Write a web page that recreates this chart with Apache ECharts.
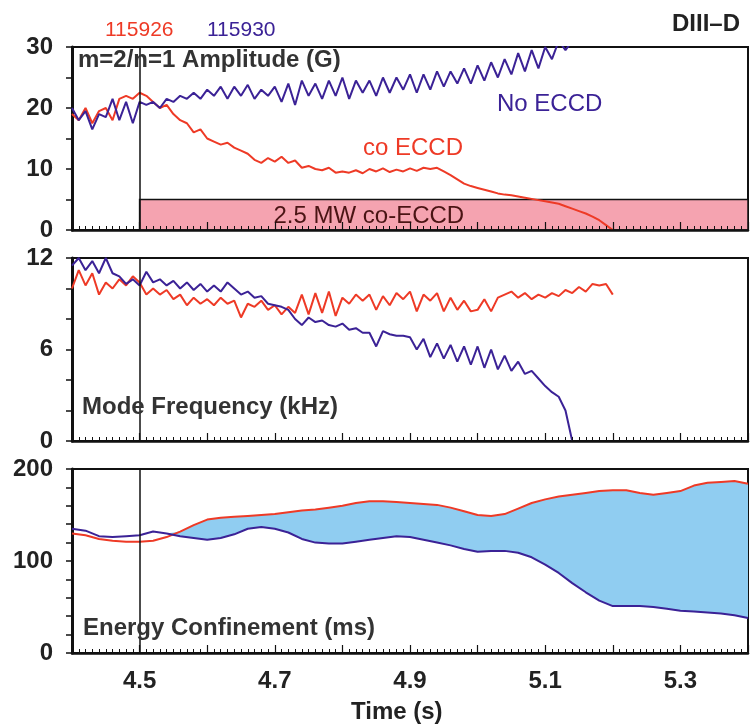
<!DOCTYPE html>
<html>
<head>
<meta charset="utf-8">
<script src="https://cdn.jsdelivr.net/npm/echarts@6/dist/echarts.min.js"></script>
<style>
  html, body { margin: 0; padding: 0; background: #fff; }
  #main { width: 753px; height: 727px; }
</style>
</head>
<body>
<div id="main"></div>
<script>
// time bases (s)
var tRed = [4.40,4.41,4.42,4.43,4.44,4.45,4.46,4.47,4.48,4.49,
  4.50,4.51,4.52,4.53,4.54,4.55,4.56,4.57,4.58,4.59,
  4.60,4.61,4.62,4.63,4.64,4.65,4.66,4.67,4.68,4.69,
  4.70,4.71,4.72,4.73,4.74,4.75,4.76,4.77,4.78,4.79,
  4.80,4.81,4.82,4.83,4.84,4.85,4.86,4.87,4.88,4.89,
  4.90,4.91,4.92,4.93,4.94,4.95,4.96,4.97,4.98,4.99,
  5.00,5.01,5.02,5.03,5.04,5.05,5.06,5.07,5.08,5.09,
  5.10,5.11,5.12,5.13,5.14,5.15,5.16,5.17,5.18,5.19,5.20];
var tBlue = [4.40,4.41,4.42,4.43,4.44,4.45,4.46,4.47,4.48,4.49,
  4.50,4.51,4.52,4.53,4.54,4.55,4.56,4.57,4.58,4.59,
  4.60,4.61,4.62,4.63,4.64,4.65,4.66,4.67,4.68,4.69,
  4.70,4.71,4.72,4.73,4.74,4.75,4.76,4.77,4.78,4.79,
  4.80,4.81,4.82,4.83,4.84,4.85,4.86,4.87,4.88,4.89,
  4.90,4.91,4.92,4.93,4.94,4.95,4.96,4.97,4.98,4.99,
  5.00,5.01,5.02,5.03,5.04,5.05,5.06,5.07,5.08,5.09,
  5.10,5.11,5.12,5.13,5.14];
var tTau = [4.40,4.42,4.44,4.46,4.48,4.50,4.52,4.54,4.56,4.58,
  4.60,4.62,4.64,4.66,4.68,4.70,4.72,4.74,4.76,4.78,
  4.80,4.82,4.84,4.86,4.88,4.90,4.92,4.94,4.96,4.98,
  5.00,5.02,5.04,5.06,5.08,5.10,5.12,5.14,5.16,5.18,
  5.20,5.22,5.24,5.26,5.28,5.30,5.32,5.34,5.36,5.38,5.40];

// m=2/n=1 amplitude (G)
var ampCo = [19,18,20,17.5,19.5,20,18,21.5,22,21.5,
  22.5,22,21,20,20.5,19,18,17.5,16,16.5,
  15,14.5,14,14.3,13.5,13,12.5,11.5,11,11.8,
  11.2,12,11,11.4,10.2,10.5,10,9.8,10.2,9.4,
  9.6,9.4,9.8,9.3,10,9.6,10.1,9.5,9.9,9.6,
  10.1,9.7,10.2,10.0,10.2,9.6,9.0,8.3,7.6,7.2,
  6.9,6.6,6.3,6.0,5.8,5.7,5.5,5.3,5.1,4.9,
  4.7,4.5,4.3,3.9,3.5,3.1,2.7,2.2,1.6,0.8,0];
var ampNo = [20,18,19.5,16.5,19,18.5,21.5,18,21,17.5,
  21,20.5,21,20,21.5,21,22,21.5,22.5,21.5,
  23,22,23.5,21.5,23.5,22,23.8,21.5,23,22,
  23.5,21,24,20.5,24.5,22,24,21.5,24.5,22,
  25,21.5,24.5,22.5,24.5,22,25,22.5,25,23,
  25.5,22.5,25.5,23,26,23.5,26,24,26.5,24,
  27,24.5,27.5,25,28,25.5,29,26,29.5,26.5,
  30,28,31,29.5,31];

// mode frequency (kHz)
var freqCo = [10,11.2,10.2,11,9.6,10.4,10.0,10.6,10.2,10.8,
  10.4,9.6,10.0,9.6,9.9,9.3,9.6,8.9,9.4,9.0,
  9.3,8.9,9.4,9.0,9.2,8.1,9.0,8.8,9.2,8.6,
  8.9,8.3,8.8,8.4,9.6,8.3,9.7,8.4,9.8,8.2,
  9.4,9.0,9.6,9.2,9.6,8.6,9.5,8.9,9.7,9.3,
  9.8,8.5,9.6,9.2,9.7,8.5,9.4,8.6,9.2,8.5,
  8.6,9.3,8.5,9.4,9.6,9.8,9.4,9.7,9.3,9.6,
  9.4,9.7,9.5,9.9,9.7,10.1,9.8,10.3,10.2,10.3,9.6];
var freqNo = [11.5,12,11.2,11.8,11.0,12,11.0,10.8,10.3,10.6,
  10.2,11.1,10.4,10.6,10.2,10.5,10.0,10.4,9.9,10.3,
  9.8,10.2,9.8,10.4,10.0,9.6,9.8,9.4,9.5,9.0,
  8.9,8.8,8.6,8.0,7.6,8.1,7.8,7.9,7.6,7.5,
  7.7,7.3,7.4,7.1,7.1,6.2,7.2,7.0,6.9,6.9,
  6.8,6.0,6.7,5.5,6.4,5.4,6.3,5.2,6.2,5.0,
  6.2,4.8,6.0,4.7,5.6,4.6,5.2,4.4,4.6,4.1,
  3.6,3.2,2.9,2.0,0];

// energy confinement (ms)
var tauCo = [130,128,124,122,121,121,122,126,132,139,
  145,147,148,149,150,151,153,155,156,158,
  160,163,165,165,164,163,162,161,158,154,
  150,149,151,157,163,167,170,172,174,176,
  177,177,174,172,174,176,182,185,186,187,184];
var tauNo = [135,133,127,126,127,128,132,130,127,125,
  123,125,129,135,137,135,131,124,120,119,
  119,121,123,125,127,126,123,120,117,113,
  110,111,111,109,104,96,87,76,66,57,
  51,51,51,50,48,46,45,44,43,41,38];

var yTicks1 = [0, 30, 10];
var yTicks2 = [0, 12, 6];
var yTicks3 = [0, 200, 100];
var xRange = [4.4, 5.4];
var ecrhOn = 4.5;
var ecrhBand = 5;

var RED = '#ee3a26', BLUE = '#3b2296', FILL = '#90cdf1';
var FONT = '"Liberation Sans", Arial, sans-serif';

function zip(t, v) {
  return v.map(function (y, i) { return [t[i], y]; });
}

var chart = echarts.init(document.getElementById('main'));

var grids = [
  { left: 72, right: 5, top: 47, height: 183 },
  { left: 72, right: 5, top: 258, height: 183 },
  { left: 72, right: 5, top: 469, height: 184 }
].map(function (g) {
  g.show = true; g.borderColor = '#111'; g.borderWidth = 2; g.backgroundColor = '#fff';
  return g;
});

var xAxes = [0, 1, 2].map(function (i) {
  return {
    type: 'value', gridIndex: i, min: xRange[0], max: xRange[1], interval: 0.1, z: 5,
    axisLine: { lineStyle: { color: '#111', width: 2.5 } },
    axisTick: { inside: true, length: 8, lineStyle: { color: '#111', width: 1.2 } },
    minorTick: { show: true, splitNumber: 10, length: 4, lineStyle: { color: '#111', width: 1 } },
    splitLine: { show: false },
    axisLabel: {
      show: i === 2, margin: 16, color: '#222', fontFamily: FONT, fontWeight: 'bold', fontSize: 24,
      formatter: function (v) { return Math.round(v * 10) % 2 === 1 ? v.toFixed(1) : ''; }
    }
  };
});

function yAxis(i, ticks, minorSplit) {
  return {
    type: 'value', gridIndex: i, min: ticks[0], max: ticks[1], interval: ticks[2],
    axisLine: { show: true, lineStyle: { color: '#111', width: 3 } },
    axisTick: { show: true, inside: false, length: 6, lineStyle: { color: '#111', width: 1.5 } },
    minorTick: { show: true, splitNumber: minorSplit, length: 6, lineStyle: { color: '#111', width: 1.5 } },
    splitLine: { show: false },
    axisLabel: { margin: 19, color: '#222', fontFamily: FONT, fontWeight: 'bold', fontSize: 24 }
  };
}

var vLine = {
  silent: true, symbol: ['none', 'none'], label: { show: false },
  lineStyle: { color: '#111', width: 1.5, type: 'solid' },
  data: [{ xAxis: ecrhOn }]
};

function line(name, data, color, xi, extra) {
  var s = {
    name: name, type: 'line', xAxisIndex: xi, yAxisIndex: xi, data: data,
    showSymbol: false, symbol: 'none', lineStyle: { color: color, width: 2 },
    itemStyle: { color: color }, animation: false, z: 3
  };
  for (var k in extra) s[k] = extra[k];
  return s;
}

// shaded gap between the two confinement traces (only where co-ECCD is above)
var gapSeries = {
  type: 'custom', coordinateSystem: 'cartesian2d', xAxisIndex: 2, yAxisIndex: 2, z: 1,
  silent: true, animation: false,
  data: zip(tTau, tauCo),
  renderItem: function (params, api) {
    if (params.dataIndex !== 0) return null;
    var pts = [];
    tTau.forEach(function (t, i) { pts.push(api.coord([t, Math.max(tauCo[i], tauNo[i])])); });
    for (var i = tTau.length - 1; i >= 0; i--) pts.push(api.coord([tTau[i], tauNo[i]]));
    return { type: 'polygon', shape: { points: pts }, style: { fill: FILL } };
  },
  markLine: vLine
};

var option = {
  animation: false,
  grid: grids,
  xAxis: xAxes,
  yAxis: [yAxis(0, yTicks1, 2), yAxis(1, yTicks2, 3), yAxis(2, yTicks3, 5)],
  series: [
    line('115926 amp', zip(tRed, ampCo), RED, 0, {
      markArea: {
        silent: true,
        itemStyle: { color: '#f5a3b0', borderColor: '#111', borderWidth: 1.5 },
        label: { show: true, position: 'inside', color: '#4a1414', fontFamily: FONT, fontSize: 24,
          formatter: '2.5 MW co-ECCD', offset: [-75, 2] },
        data: [[{ xAxis: ecrhOn, yAxis: 0 }, { xAxis: xRange[1], yAxis: ecrhBand }]]
      },
      markLine: vLine
    }),
    line('115930 amp', zip(tBlue, ampNo), BLUE, 0),
    line('115926 freq', zip(tRed, freqCo), RED, 1, { markLine: vLine }),
    line('115930 freq', zip(tBlue, freqNo), BLUE, 1),
    gapSeries,
    line('115926 tau', zip(tTau, tauCo), RED, 2),
    line('115930 tau', zip(tTau, tauNo), BLUE, 2)
  ],
  graphic: [
    { type: 'text', left: 105, top: 20, style: { text: '115926', fill: RED, font: '21px ' + FONT } },
    { type: 'text', left: 207, top: 20, style: { text: '115930', fill: BLUE, font: '21px ' + FONT } },
    { type: 'text', left: 672, top: 12, style: { text: 'DIII\u2013D', fill: '#222', font: 'bold 24px ' + FONT } },
    { type: 'text', left: 78, top: 48, z: 10, style: { text: 'm=2/n=1 Amplitude (G)', fill: '#333', font: 'bold 24px ' + FONT } },
    { type: 'text', left: 497, top: 92, style: { text: 'No ECCD', fill: BLUE, font: '24px ' + FONT } },
    { type: 'text', left: 363, top: 136, style: { text: 'co ECCD', fill: RED, font: '24px ' + FONT } },
    { type: 'text', left: 82, top: 395, z: 10, style: { text: 'Mode Frequency (kHz)', fill: '#333', font: 'bold 24px ' + FONT } },
    { type: 'text', left: 83, top: 616, z: 10, style: { text: 'Energy Confinement (ms)', fill: '#333', font: 'bold 24px ' + FONT } },
    { type: 'text', left: 351, top: 700, style: { text: 'Time (s)', fill: '#222', font: 'bold 24px ' + FONT } }
  ]
};

chart.setOption(option);
</script>
</body>
</html>
